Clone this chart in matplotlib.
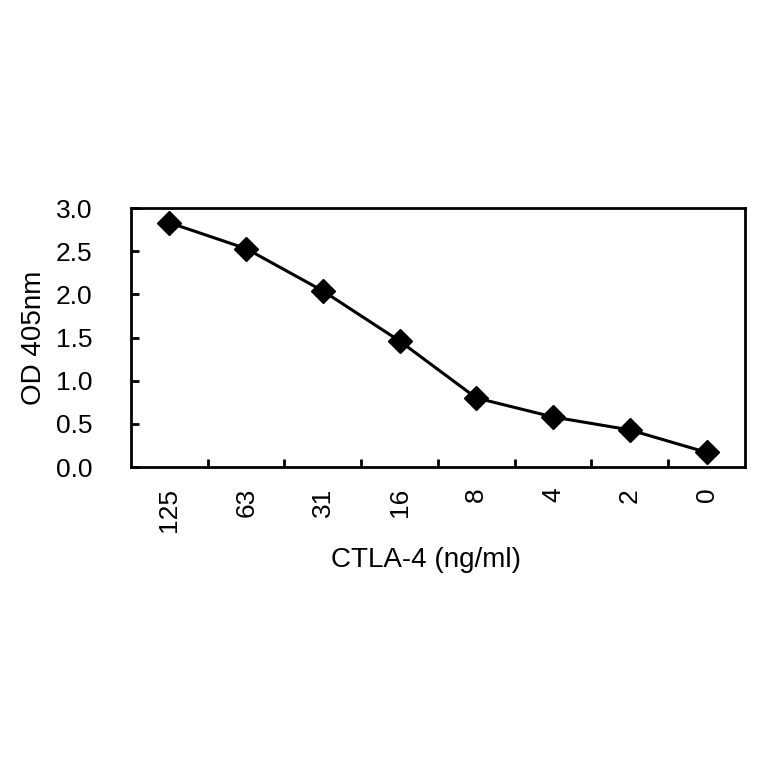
import matplotlib
matplotlib.use("Agg")
import matplotlib.pyplot as plt

plt.rcParams['font.family'] = ['Liberation Sans', 'DejaVu Sans']

# CTLA-4 concentration (ng/ml) and OD 405nm readings
conc_labels = ["125", "63", "31", "16", "8", "4", "2", "0"]
od_values = [2.83, 2.53, 2.04, 1.46, 0.80, 0.58, 0.43, 0.17]

fig = plt.figure(figsize=(7.64, 7.64), dpi=100)
ax = fig.add_axes([0.1715, 0.3887, 0.8035, 0.339])

x = list(range(len(conc_labels)))
ax.plot(x, od_values, color='black', lw=2.2, marker='D', ms=12,
        markerfacecolor='black', markeredgecolor='black')

ax.set_xlim(-0.5, len(conc_labels) - 0.5)
ax.set_ylim(0, 3.0)
ax.set_yticks([0, 0.5, 1.0, 1.5, 2.0, 2.5, 3.0])
ax.set_yticklabels(["0.0", "0.5", "1.0", "1.5", "2.0", "2.5", "3.0"])

# category labels centered, tick marks between categories
ax.set_xticks(x)
ax.set_xticklabels(conc_labels, rotation=90)
ax.set_xticks([i + 0.5 for i in x[:-1]], minor=True)
ax.tick_params(axis='x', which='major', length=0, pad=15, labelsize=19)
ax.tick_params(axis='x', which='minor', direction='in', length=6, width=2)
ax.tick_params(axis='y', direction='in', length=6, width=2, pad=28, labelsize=19)

for s in ax.spines.values():
    s.set_linewidth(2)

ax.set_ylabel("OD 405nm", fontsize=20, labelpad=6)
ax.set_xlabel("CTLA-4 (ng/ml)", fontsize=20)
ax.xaxis.set_label_coords(0.481, -0.31)

fig.savefig("out.png", dpi=100)
